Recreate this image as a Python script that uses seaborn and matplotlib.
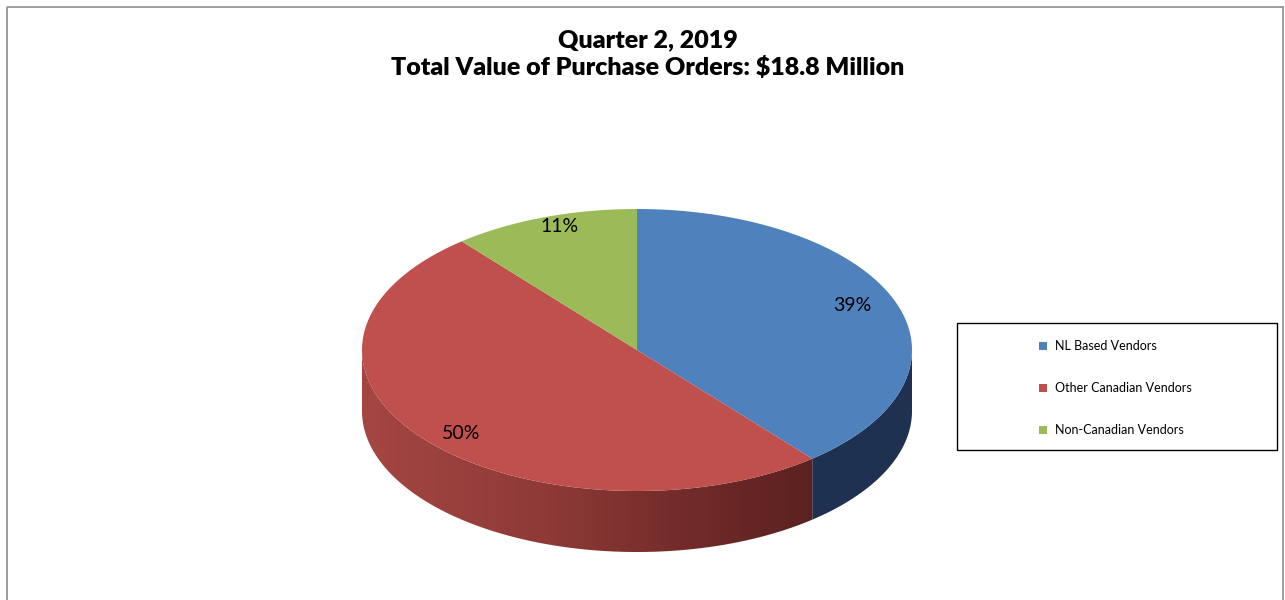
import numpy as np
import matplotlib
matplotlib.use("Agg")
import matplotlib.pyplot as plt
import seaborn as sns
from matplotlib.patches import Polygon, Rectangle
from matplotlib.colors import LinearSegmentedColormap

# Data
categories = ["NL Based Vendors", "Other Canadian Vendors", "Non-Canadian Vendors"]
shares = [39, 50, 11]
top_colors = ["#4F81BD", "#C0504D", "#9BBB59"]
title_lines = ["Quarter 2, 2019", "Total Value of Purchase Orders: $18.8 Million"]

sns.set_theme(style="white")
plt.rcParams['font.family'] = ['Lato', 'DejaVu Sans']

fig = plt.figure(figsize=(12.85, 6.0), dpi=100)
ax = fig.add_axes([0, 0, 1, 1])
ax.set_xlim(0, 1285)
ax.set_ylim(600, 0)
ax.axis("off")

# outer chart border
ax.add_patch(Rectangle((7, 7), 1276, 620, fill=False, edgecolor="#8C8C8C", lw=1.2))

# pie geometry (ellipse on screen)
cx, cy, rx, ry, depth = 637, 350, 275, 141, 61

def pt(theta_deg, dy=0):
    t = np.radians(theta_deg)
    return cx + rx * np.cos(t), cy - ry * np.sin(t) + dy

# angles: start at 90 deg, go clockwise
fracs = np.array(shares) / np.sum(shares)
starts = 90 - 360 * np.concatenate([[0], np.cumsum(fracs)[:-1]])
ends = starts - 360 * fracs

# side walls (front half only: math angles 180..360)
side_maps = [
    LinearSegmentedColormap.from_list("b", ["#1F3350", "#1E3150"]),
    LinearSegmentedColormap.from_list("r", ["#A54642", "#8E3A37", "#6A2726", "#4A1B1B"]),
    LinearSegmentedColormap.from_list("g", ["#6E8A3A", "#5A7230"]),
]
for s, e, cmap in zip(starts, ends, side_maps):
    lo, hi = min(s, e) % 360, min(s, e) % 360 + abs(s - e)
    a0, a1 = max(lo, 180), min(hi, 360)
    if a1 <= a0:
        continue
    th = np.linspace(a0, a1, 200)
    top = [pt(t) for t in th]
    bot = [pt(t, depth) for t in th[::-1]]
    poly = Polygon(top + bot, closed=True, facecolor="none", edgecolor="none")
    ax.add_patch(poly)
    grad = np.linspace(0, 1, 256).reshape(1, -1)
    im = ax.imshow(grad, cmap=cmap, aspect="auto",
                   extent=[cx - rx, cx + rx, cy + ry + depth + 2, cy - 2], zorder=1)
    im.set_clip_path(poly)

# top faces
for s, e, c in zip(starts, ends, top_colors):
    th = np.linspace(s, e, 200)
    verts = [(cx, cy)] + [pt(t) for t in th]
    ax.add_patch(Polygon(verts, closed=True, facecolor=c, edgecolor="none", zorder=2))

# percentage labels
for s, e, v in zip(starts, ends, shares):
    mid = np.radians((s + e) / 2)
    lx = cx + 0.83 * rx * np.cos(mid)
    ly = cy - 0.93 * ry * np.sin(mid)
    ax.text(lx, ly, f"{v}%", ha="center", va="center", fontsize=14, color="black", zorder=3)

# title
for i, line in enumerate(title_lines):
    ax.text(648, 40 + i * 28, line, ha="center", va="center", fontsize=18,
            fontweight="heavy", color="black")

# legend box
ax.add_patch(Rectangle((957, 323), 320, 127, fill=False, edgecolor="black", lw=1.0, zorder=3))
for i, (lab, c) in enumerate(zip(categories, top_colors)):
    y = 346 + i * 42
    ax.add_patch(Rectangle((1039, y - 4), 8, 8, facecolor=c, edgecolor="none", zorder=3))
    ax.text(1055, y, lab, ha="left", va="center", fontsize=9, color="black", zorder=3)

fig.savefig("out.png", dpi=100)
